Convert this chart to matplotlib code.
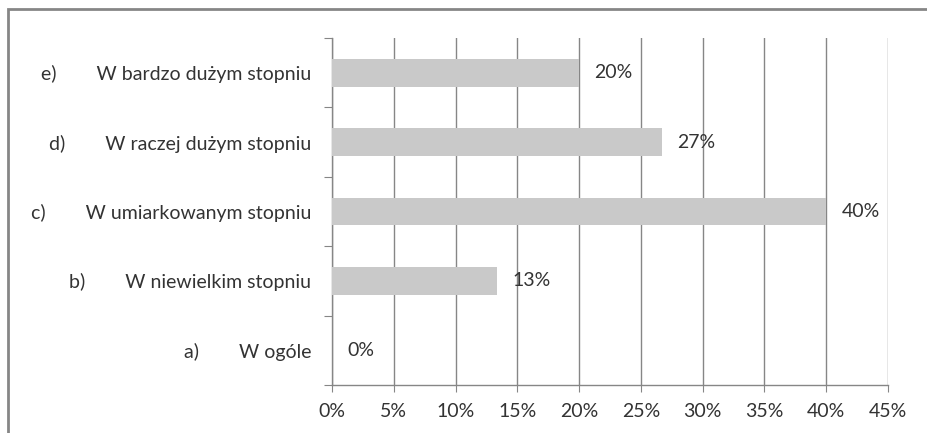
import matplotlib.pyplot as plt
from matplotlib.patches import Rectangle
from matplotlib.ticker import MultipleLocator, FuncFormatter

letters = ['a)', 'b)', 'c)', 'd)', 'e)']
answers = ['W ogóle', 'W niewielkim stopniu', 'W umiarkowanym stopniu',
           'W raczej dużym stopniu', 'W bardzo dużym stopniu']
shares = [0.0, 0.1333, 0.40, 0.2667, 0.20]

plt.rcParams['font.family'] = ['Lato', 'DejaVu Sans']
grey = '#868686'
txt = '#333333'
fs = 14

fig = plt.figure(figsize=(9.28, 4.33), dpi=100)
ax = fig.add_axes([332 / 928, 48 / 433, 556 / 928, 347 / 433])

# outer frame, runs off the right and bottom edge
fig.patches.append(Rectangle((8 / 928, -0.05), 1.0, (433 - 9) / 433 + 0.05,
                             transform=fig.transFigure, fill=False,
                             edgecolor=grey, linewidth=2))

pos = range(len(answers))
ax.barh(pos, shares, height=0.4, color='#c9c9c9', zorder=3)
for y, v in zip(pos, shares):
    ax.annotate(f'{v:.0%}', (v, y), xytext=(11, 0), textcoords='offset points',
                va='center', ha='left', fontsize=fs, color=txt)

ax.set_xlim(0, 0.45)
ax.set_ylim(-0.5, len(answers) - 0.5)
ax.xaxis.set_major_locator(MultipleLocator(0.05))
ax.xaxis.set_major_formatter(FuncFormatter(lambda v, _: f'{v:.0%}'))
ax.grid(axis='x', color=grey, linewidth=1, zorder=0)

ax.set_yticks([p - 0.5 for p in pos] + [len(answers) - 0.5])
ax.set_yticklabels([])
ax.set_yticks(list(pos), minor=True)
labels = [f'{l}{" " * 8}{a}' for l, a in zip(letters, answers)]
ax.set_yticklabels(labels, minor=True)
ax.tick_params(axis='y', which='minor', length=0, pad=15, labelsize=fs, labelcolor=txt)
ax.tick_params(axis='y', which='major', length=6, color=grey)
ax.tick_params(axis='x', length=5, color=grey, labelsize=fs, labelcolor=txt, pad=8)

for s in ['top', 'right']:
    ax.spines[s].set_visible(False)
for s in ['left', 'bottom']:
    ax.spines[s].set_color(grey)
    ax.spines[s].set_linewidth(1)

fig.savefig('out.png', dpi=100)
